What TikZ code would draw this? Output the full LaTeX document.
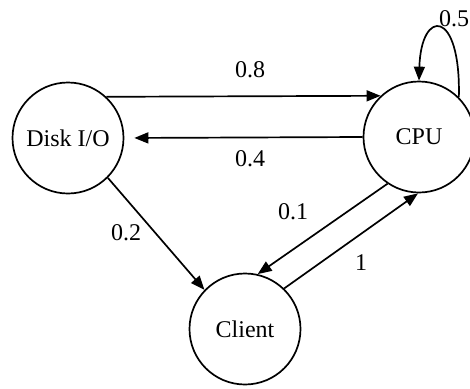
\documentclass[tikz,border=0pt]{standalone}
\usepackage{fontspec}
\setmainfont{Liberation Serif}
\usetikzlibrary{arrows.meta}
\begin{document}
\begin{tikzpicture}[x=1pt,y=-1pt,
  every node/.style={font=\fontsize{24}{28}\selectfont},
  state/.style={circle,draw,line width=1.7pt,inner sep=0pt,minimum size=111pt},
  edge/.style={line width=1.7pt,-{Triangle[length=14pt,width=11pt]}},
  lbl/.style={inner sep=0pt}]
\useasboundingbox (0,0) rectangle (470,388);
\node[state] (disk) at (68,138) {Disk I/O};
\node[state] (cpu) at (419,137) {CPU};
\node[state] (client) at (245,329) {Client};
\draw[edge] (disk.47) -- (cpu.133);
\draw[edge,shorten >=10pt] (cpu.180) -- (disk.0);
\draw[edge] (cpu.236) -- (client.77);
\draw[edge] (client.46) -- (cpu.269);
\draw[edge] (disk.-45) -- (client.136);
\draw[edge] (cpu.45) .. controls (461,8) and (421,8) .. (cpu.90);
\node[lbl] (l08) at (250,70) {0.8};
\node[lbl] (l04) at (250,159) {0.4};
\node[lbl] (l05) at (454,19) {0.5};
\node[lbl] (l01) at (293,212) {0.1};
\node[lbl] (l1) at (361,263) {1};
\node[lbl] (l02) at (126,233) {0.2};
\end{tikzpicture}
\end{document}
